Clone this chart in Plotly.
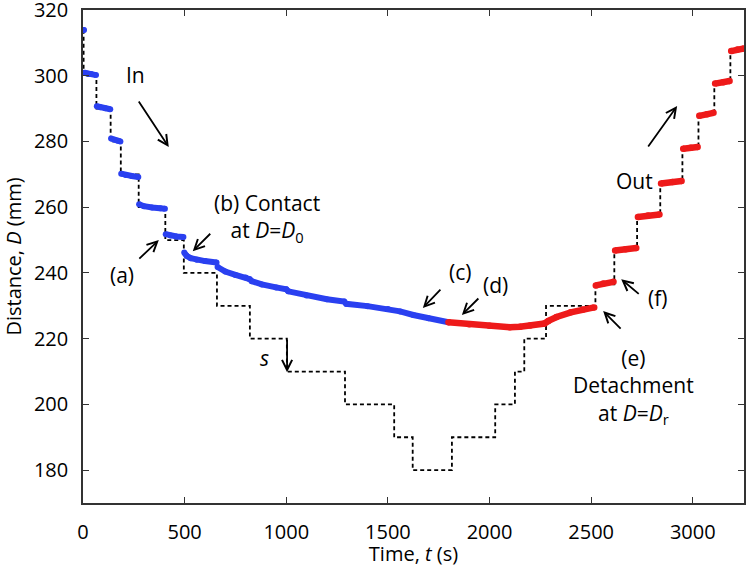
import plotly.graph_objects as go

# ---- data ----
# approach ("In") phase, blue; segments separated by None
blue_t = [2, 5, None,
          7, 20, 40, 64, None,
          68, 85, 110, 134, None,
          138, 155, 170, 184, None,
          188, 210, 240, 272, None,
          276, 300, 340, 380, 403, None,
          407, 430, 460, 494, None,
          498, 510, 530, 560, 600, 657, None,
          662, 700, 750, 800, 820, 830, 880, 950, 1000, 1010, 1100, 1200, 1285,
          1295, 1400, 1500, 1560, 1625, 1700, 1798]
blue_d = [313.9, 313.9, None,
          300.9, 300.7, 300.5, 300.2, None,
          290.7, 290.4, 290.1, 289.8, None,
          280.9, 280.5, 280.2, 280.0, None,
          270.2, 269.8, 269.5, 269.2, None,
          260.9, 260.3, 259.9, 259.7, 259.5, None,
          251.8, 251.4, 251.1, 250.9, None,
          246.2, 245.2, 244.5, 244.0, 243.6, 243.2, None,
          241.8, 240.4, 239.4, 238.6, 238.1, 237.5, 236.5, 235.6, 235.0, 234.4, 233.1, 232.0, 231.3,
          230.6, 229.9, 229.0, 228.3, 227.2, 226.2, 225.0]

# retraction ("Out") phase, red
red_t = [1798, 1900, 2000, 2100, 2150, 2200, 2270, 2290, 2330, 2400, 2460, 2515, None,
         2523, 2560, 2610, None,
         2618, 2670, 2722, None,
         2730, 2780, 2836, None,
         2844, 2900, 2945, None,
         2953, 2990, 3024, None,
         3032, 3070, 3102, None,
         3110, 3150, 3181, None,
         3189, 3220, 3252]
red_d = [225.0, 224.4, 223.9, 223.5, 223.6, 224.0, 224.6, 225.4, 226.6, 228.0, 228.9, 229.5, None,
         236.2, 236.8, 237.3, None,
         246.8, 247.2, 247.6, None,
         257.0, 257.5, 257.8, None,
         267.2, 267.7, 268.0, None,
         277.8, 278.1, 278.3, None,
         287.8, 288.3, 288.7, None,
         297.6, 298.0, 298.4, None,
         307.5, 308.0, 308.3]

# stage set-point s (dashed step line)
s_t = [3, 3, 66, 136, 186, 274, 405, 496, 659, 821, 1003, 1289, 1531, 1622, 1815,
       2028, 2125, 2171, 2278, 2521, 2614, 2726, 2840, 2949, 3028, 3106, 3185, 3252]
s_d = [314, 300, 290, 280, 270, 260, 250, 240, 230, 220, 210, 200, 190, 180, 190,
       200, 210, 220, 230, 236.5, 247, 257.3, 267.5, 278, 288.2, 298, 307.8, 308]

x_ticks = [0, 500, 1000, 1500, 2000, 2500, 3000]
y_ticks = [180, 200, 220, 240, 260, 280, 300, 320]

FONT = "Open Sans"
FS = 21
TFS = 20
BLUE = "#2a40f0"
RED = "#ee1a1a"

fig = go.Figure()
fig.add_trace(go.Scatter(x=s_t, y=s_d, mode="lines", line_shape="hv",
                         line=dict(color="black", width=1.8, dash="4px,3px"),
                         hoverinfo="skip", showlegend=False))
fig.add_trace(go.Scatter(x=blue_t, y=blue_d, mode="lines+markers",
                         line=dict(color=BLUE, width=6), marker=dict(color=BLUE, size=6),
                         connectgaps=False, showlegend=False))
fig.add_trace(go.Scatter(x=red_t, y=red_d, mode="lines+markers",
                         line=dict(color=RED, width=6.5), marker=dict(color=RED, size=6.5),
                         connectgaps=False, showlegend=False))

# arrows: head position in data coords, tail offset in px
arrows = [
    (422, 278.3, -31, -47),   # In
    (373, 250.0, -21, 20),    # (a)
    (540, 246.6, 19, -19),    # (b)
    (1672, 229.3, 19, -20),   # (c)
    (1864, 227.2, 18, -18),   # (d)
    (2559, 228.4, 19, 19),    # (e)
    (2648, 238.1, 19, 16),    # (f)
    (2923, 290.8, -30, 42),   # Out
    (1004, 209.8, 0, -34),    # s
]
for hx, hy, ax, ay in arrows:
    fig.add_annotation(x=hx, y=hy, xref="x", yref="y", ax=ax, ay=ay,
                       showarrow=True, arrowhead=5, arrowsize=1.1, arrowwidth=1.8,
                       arrowcolor="black", text="")

labels = [
    (260, 300.2, "In"),
    (191, 239.3, "(a)"),
    (905, 256.8, "(b) Contact<br>at <i>D</i>=<i>D</i><sub>0</sub>"),
    (1856, 240.2, "(c)"),
    (2027, 236.3, "(d)"),
    (2707, 205.5, "(e)<br>Detachment<br>at <i>D</i>=<i>D</i><sub>r</sub>"),
    (2825, 232.5, "(f)"),
    (2712, 268.0, "Out"),
    (895, 214.0, "<i>s</i>"),
]
for lx, ly, txt in labels:
    fig.add_annotation(x=lx, y=ly, xref="x", yref="y", text=txt, showarrow=False,
                       font=dict(family=FONT, size=FS, color="black"), align="center")

axis_common = dict(showline=True, linecolor="#333333", linewidth=1.5, mirror="ticks",
                   ticks="inside", ticklen=6, tickwidth=1, tickcolor="#333333",
                   showgrid=False, zeroline=False, automargin=False,
                   ticklabeloverflow="allow",
                   tickfont=dict(family=FONT, size=TFS, color="black"))
fig.update_xaxes(range=[0, 3252], tickvals=x_ticks, ticklabelstandoff=10,
                 title=dict(text="Time, <i>t</i> (s)", font=dict(family=FONT, size=TFS, color="black"),
                            standoff=6),
                 **axis_common)
fig.update_yaxes(range=[170, 320], tickvals=y_ticks, ticklabelstandoff=9,
                 title=dict(text="Distance, <i>D</i> (mm)", font=dict(family=FONT, size=TFS, color="black"),
                            standoff=7),
                 **axis_common)
fig.update_layout(width=750, height=567, plot_bgcolor="white", paper_bgcolor="white",
                  margin=dict(l=83, r=6, t=10, b=64), showlegend=False)
fig.write_html("out.html", config={"displayModeBar": False},
               post_script="document.body.style.margin='0';document.body.style.overflow='hidden';")
